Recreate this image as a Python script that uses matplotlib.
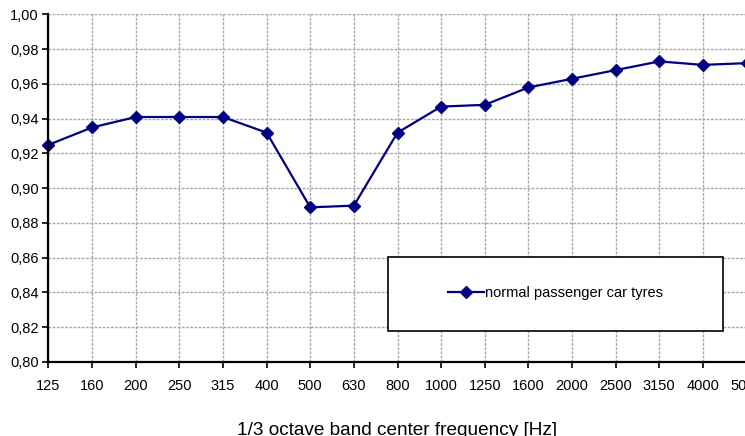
import matplotlib
matplotlib.use('Agg')
import matplotlib.pyplot as plt
from matplotlib.patches import Rectangle
from matplotlib.ticker import FuncFormatter

freqs = ['125', '160', '200', '250', '315', '400', '500', '630', '800', '1000',
         '1250', '1600', '2000', '2500', '3150', '4000', '5000']
values = [0.925, 0.935, 0.941, 0.941, 0.941, 0.932, 0.889, 0.890, 0.932, 0.947,
          0.948, 0.958, 0.963, 0.968, 0.973, 0.971, 0.972]
series_name = 'normal passenger car tyres'

plt.rcParams['font.family'] = ['Liberation Sans', 'DejaVu Sans']

W, H = 745, 436
fig = plt.figure(figsize=(W / 100, H / 100), dpi=100)
ax = fig.add_axes([48.5 / W, 1 - 362 / H, (746.5 - 48.5) / W, (362 - 14.5) / H])

x = list(range(len(freqs)))
line, = ax.plot(x, values, color='#000080', linewidth=1.6, marker='D',
                markersize=6.5, label=series_name, clip_on=False)

ax.set_xlim(0, len(freqs) - 1)
ax.set_ylim(0.80, 1.00)
ax.set_xticks(x)
ax.set_xticklabels(freqs, fontsize=10.5)
ax.set_yticks([0.80 + 0.02 * i for i in range(11)])
ax.yaxis.set_major_formatter(FuncFormatter(lambda v, p: f'{v:.2f}'.replace('.', ',')))
ax.tick_params(axis='y', labelsize=10.5, direction='out', length=4, width=1.2, pad=3)
ax.tick_params(axis='x', direction='out', length=4, width=1.2, pad=8)

ax.grid(True, color='#a8a8a8', linestyle=(0, (2, 1)), linewidth=1.0)
ax.set_axisbelow(True)
for side in ['top', 'right']:
    ax.spines[side].set_visible(False)
ax.spines['left'].set_linewidth(1.6)
ax.spines['bottom'].set_linewidth(1.6)

ax.set_xlabel('1/3 octave band center frequency [Hz]', fontsize=13.7)
ax.xaxis.label.set_va('baseline')
ax.xaxis.set_label_coords(0.5, (362 - 435) / (362 - 14.5))

# legend box
x0, y0, x1, y1 = 388.5, 256.5, 722.5, 330.5
fig.patches.append(Rectangle((x0 / W, 1 - y1 / H), (x1 - x0) / W, (y1 - y0) / H,
                             transform=fig.transFigure, facecolor='white',
                             edgecolor='black', linewidth=1.2, zorder=5))
leg = fig.legend(handles=[line], loc='center', frameon=False, fontsize=10.5,
                 bbox_to_anchor=((x0 + x1) / 2 / W, 1 - (y0 + y1) / 2 / H),
                 handlelength=2.5, handletextpad=0.05)
leg.set_zorder(6)

fig.savefig('out.png', dpi=100)
